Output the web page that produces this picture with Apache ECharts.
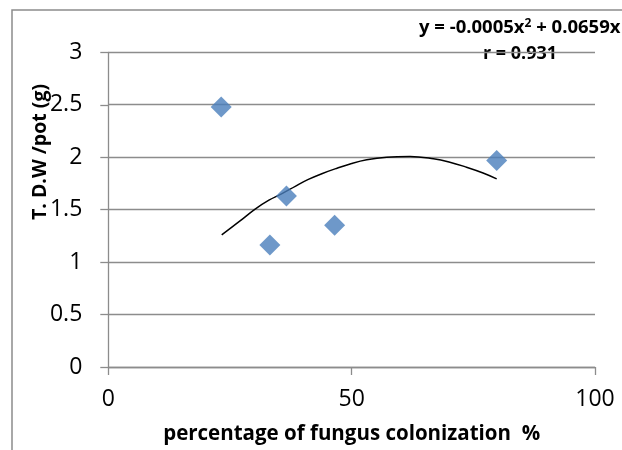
<!DOCTYPE html>
<html>
<head>
<meta charset="utf-8">
<script src="https://cdn.jsdelivr.net/npm/echarts@6/dist/echarts.min.js"></script>
<style>
html,body{margin:0;padding:0;background:#fff;}
#chart{width:622px;height:450px;}
</style>
</head>
<body>
<div id="chart"></div>
<script>
// Observed data points (colonization %, T. D.W/pot g)
const colonization = [23.2, 33.2, 36.6, 46.5, 79.8];
const dryWeight = [2.478, 1.164, 1.629, 1.351, 1.968];
// Trendline points
const trendX = [23.3, 27, 30.1, 33, 35.6, 38.5, 41.1, 44, 47, 50, 53.1, 57.2, 62.0, 66.8, 70, 73.6, 77, 79.8];
const trendY = [1.259, 1.39, 1.503, 1.59, 1.65, 1.725, 1.788, 1.845, 1.895, 1.94, 1.975, 2.0, 2.007, 1.985, 1.955, 1.905, 1.85, 1.794];
const xTicks = [0, 50, 100];
const yTicks = [0, 0.5, 1, 1.5, 2, 2.5, 3];
const xTitle = 'percentage of fungus colonization  %';
const yTitle = 'T. D.W /pot (g)';
const eqLine1 = 'y = -0.0005x';
const eqLine1b = ' + 0.0659x';
const eqLine2 = 'r = 0.931';

const chart = echarts.init(document.getElementById('chart'), null, {renderer: 'canvas'});
const gray = '#8c8c8c';
const font = 'Open Sans';
chart.setOption({
  animation: false,
  grid: {left: 108.3, right: 27, top: 52.3, bottom: 81.7, containLabel: false},
  xAxis: {
    type: 'value', min: xTicks[0], max: xTicks[xTicks.length - 1], interval: 50,
    axisLine: {show: true, lineStyle: {color: gray, width: 1.3}},
    axisTick: {show: true, length: 8, lineStyle: {color: gray, width: 1.3}},
    splitLine: {show: false},
    axisLabel: {color: '#000', fontSize: 23, fontFamily: font, margin: 21},
    name: xTitle, nameLocation: 'middle', nameGap: 57,
    nameTextStyle: {color: '#000', fontSize: 20.5, fontWeight: 'bold', fontFamily: font}
  },
  yAxis: {
    type: 'value', min: yTicks[0], max: yTicks[yTicks.length - 1], interval: 0.5,
    axisLine: {show: true, lineStyle: {color: gray, width: 1.3}},
    axisTick: {show: true, length: 8, lineStyle: {color: gray, width: 1.3}},
    splitLine: {show: true, lineStyle: {color: gray, width: 1.3}},
    axisLabel: {color: '#000', fontSize: 23, fontFamily: font, margin: 26}
  },
  graphic: [
    {type: 'rect', shape: {x: 12, y: 10, width: 800, height: 600}, style: {fill: 'none', stroke: '#8c8c8c', lineWidth: 1.5}, silent: true, z: -1},
    {type: 'text', x: 40, y: 152, rotation: Math.PI / 2,
      style: {text: yTitle, fill: '#000', font: 'bold 19.5px "Open Sans"', align: 'center', verticalAlign: 'middle'}},
    {type: 'text', x: 419, y: 28,
      style: {text: '{a|' + eqLine1 + '}{s|2}{a|' + eqLine1b + '}', verticalAlign: 'middle',
        rich: {a: {fill: '#000', font: 'bold 18.5px "Open Sans"'}, s: {fill: '#000', font: 'bold 12px "Open Sans"', verticalAlign: 'top', padding: [0, 0, 9, 0]}}}},
    {type: 'text', x: 520, y: 54,
      style: {text: eqLine2, fill: '#000', font: 'bold 18px "Open Sans"', align: 'center', verticalAlign: 'middle'}}
  ],
  series: [
    {
      type: 'line', data: trendX.map((x, i) => [x, trendY[i]]), smooth: 0.4,
      showSymbol: false, lineStyle: {color: '#000', width: 1.5}, z: 2
    },
    {
      type: 'scatter', data: colonization.map((x, i) => [x, dryWeight[i]]),
      symbol: 'diamond', symbolSize: 21, itemStyle: {color: '#4a7ebb'}, z: 3
    }
  ]
});
</script>
</body>
</html>
